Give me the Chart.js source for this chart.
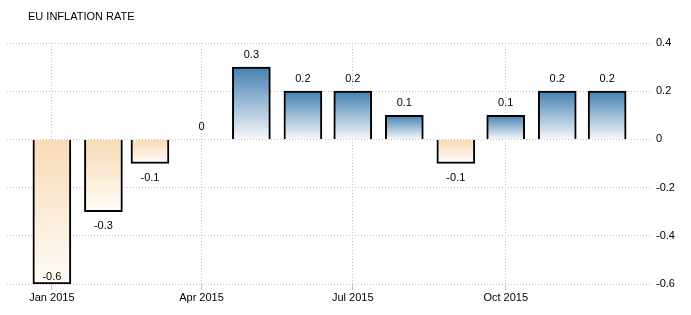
<!DOCTYPE html>
<html>
<head>
<meta charset="utf-8">
<script src="https://cdn.jsdelivr.net/npm/chart.js@4"></script>
<style>
    body { margin: 0; background: #fff; }
    #wrap { position: relative; width: 691px; height: 315px; }
</style>
</head>
<body>
<div id="wrap"><canvas id="inflationChart"></canvas></div>
<script>
const chartTitle = 'EU INFLATION RATE';
const months = ['2015-01-01', '2015-02-01', '2015-03-01', '2015-04-01', '2015-05-01', '2015-06-01',
    '2015-07-01', '2015-08-01', '2015-09-01', '2015-10-01', '2015-11-01', '2015-12-01'];
const inflation = [-0.6, -0.3, -0.1, 0, 0.3, 0.2, 0.2, 0.1, -0.1, 0.1, 0.2, 0.2];
const tickDates = ['2015-01-01', '2015-04-01', '2015-07-01', '2015-10-01'];
const tickLabels = ['Jan 2015', 'Apr 2015', 'Jul 2015', 'Oct 2015'];

const FONT = 'Liberation Sans, Arial, sans-serif';
const DAY = 24 * 3600 * 1000;
const start = Date.UTC(2015, 0, 1);
const toDay = d => Math.round((Date.parse(d) - start) / DAY);
const tickDays = tickDates.map(toDay);

// one gradient per bar, from its top edge down to its bottom edge
function barFill(context) {
    const chart = context.chart;
    const v = context.raw ? context.raw.y : 0;
    const y = chart.scales.y;
    if (!y || y.top === undefined) return '#4682b4';
    const y0 = y.getPixelForValue(0);
    const y1 = y.getPixelForValue(v);
    const top = Math.min(y0, y1), bottom = Math.max(y0, y1);
    const g = chart.ctx.createLinearGradient(0, top, 0, bottom + 0.01);
    if (v >= 0) {
        g.addColorStop(0, '#4580b2');
        g.addColorStop(1, '#f6f8fb');
    } else {
        g.addColorStop(0, '#f7dbb5');
        g.addColorStop(1, '#fffcf8');
    }
    return g;
}

const valueLabels = {
    id: 'valueLabels',
    afterDatasetsDraw(chart) {
        const ctx = chart.ctx;
        const meta = chart.getDatasetMeta(0);
        const area = chart.chartArea;
        ctx.save();
        ctx.font = '11px ' + FONT;
        ctx.fillStyle = '#000';
        ctx.textAlign = 'center';
        ctx.textBaseline = 'middle';
        meta.data.forEach((bar, i) => {
            const v = inflation[i];
            let y;
            if (v >= 0) {
                y = bar.y - 12;
            } else {
                y = bar.y + 14;
                if (y > area.bottom - 4) y = bar.y - 7;
            }
            ctx.fillText(String(v), bar.x, y);
        });
        // title
        ctx.textAlign = 'left';
        ctx.fillText(chartTitle, 28, 17);
        ctx.restore();
    }
};

const ctx = document.getElementById('inflationChart').getContext('2d');
new Chart(ctx, {
    type: 'bar',
    data: {
        datasets: [{
            data: months.map((m, i) => ({ x: toDay(m), y: inflation[i] })),
            backgroundColor: barFill,
            borderColor: '#000',
            borderWidth: 2,
            barThickness: 38
        }]
    },
    options: {
        responsive: true,
        maintainAspectRatio: false,
        animation: false,
        layout: { padding: { left: 7, top: 43, right: 0, bottom: 0 } },
        plugins: {
            legend: { display: false },
            tooltip: { enabled: false }
        },
        scales: {
            x: {
                type: 'linear',
                min: -27,
                max: 361,
                offset: false,
                grid: {
                    offset: false,
                    color: '#c4c4c4',
                    drawTicks: true,
                    tickLength: 6
                },
                border: { display: false, dash: [1, 2] },
                afterBuildTicks: s => { s.ticks = tickDays.map(v => ({ value: v })); },
                afterFit: s => { s.height = 31; },
                ticks: {
                    autoSkip: false,
                    maxRotation: 0,
                    padding: 1,
                    color: '#000',
                    font: { family: FONT, size: 11 },
                    callback: v => tickLabels[tickDays.indexOf(v)]
                }
            },
            y: {
                position: 'right',
                min: -0.6,
                max: 0.4,
                grid: { color: '#c4c4c4', drawTicks: false },
                border: { display: false, dash: [1, 2] },
                afterFit: s => { s.width = 39; },
                ticks: {
                    stepSize: 0.2,
                    padding: 4,
                    color: '#000',
                    font: { family: FONT, size: 11 },
                    callback: v => String(Math.round(v * 10) / 10)
                }
            }
        }
    },
    plugins: [valueLabels]
});
</script>
</body>
</html>
